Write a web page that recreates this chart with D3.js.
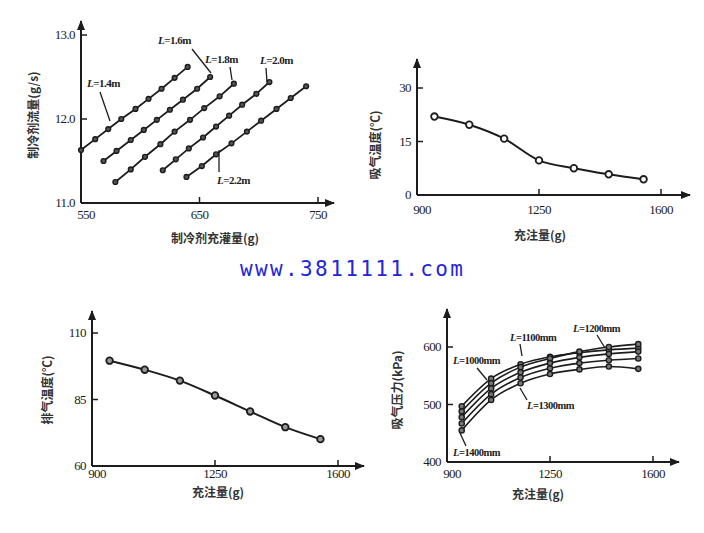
<!DOCTYPE html>
<html><head><meta charset="utf-8">
<script src="https://cdn.jsdelivr.net/npm/d3@7"></script>
<style>body{margin:0;background:#fff}svg{display:block}</style>
</head><body>
<script>
// ---------- DATA ----------
// Panel 1: refrigerant flow vs charge, per pipe length
const p1Lengths = ["1.4","1.6","1.8","2.0","2.2"];
const p1Charge = [
  [550,562,573,584,596,607,618,629,640],
  [569,580,592,603,614,625,636,648,659],
  [579,592,604,617,629,642,654,667,679],
  [619,630,641,653,664,675,686,698,709],
  [639,652,664,677,690,702,715,727,740]
];
const p1Flow = [
  [11.63,11.76,11.88,12.00,12.12,12.24,12.36,12.49,12.62],
  [11.50,11.62,11.75,11.87,11.99,12.11,12.23,12.36,12.50],
  [11.25,11.40,11.55,11.70,11.85,11.99,12.13,12.27,12.42],
  [11.39,11.52,11.65,11.78,11.91,12.04,12.17,12.30,12.44],
  [11.31,11.44,11.58,11.71,11.85,11.98,12.12,12.25,12.39]
];
const p1XTicks = [550,650,750];
const p1YTicks = [11.0,12.0,13.0];

// Panel 2: suction temperature vs charge
const chargeAmounts = [950,1050,1150,1250,1350,1450,1550];
const suctionTemp = [22.0,19.7,15.8,9.7,7.5,5.8,4.4];
const p2YTicks = [0,15,30];
const chargeTicks = [900,1250,1600];

// Panel 3: discharge temperature vs charge
const dischargeTemp = [99.6,96.2,92.1,86.5,80.5,74.6,70.1];
const p3YTicks = [60,85,110];

// Panel 4: suction pressure vs charge, per length
const p4Lengths = ["1000","1100","1200","1300","1400"];
const suctionPressure = [
  [497,545,570,583,590,595,598],
  [488,537,565,580,592,600,605],
  [478,528,556,572,582,588,592],
  [467,518,547,563,572,577,580],
  [455,508,537,553,561,566,562]
];
const p4YTicks = [400,500,600];

// ---------- DRAW ----------
const svg = d3.select("body").append("svg").attr("width",704).attr("height",533);
const ink = "#1c1c1c";
const serif = "'Liberation Serif','DejaVu Serif',serif";
const cjk = "'Noto Sans CJK SC','Noto Sans CJK JP',sans-serif";

svg.append("defs").append("marker").attr("id","arr")
  .attr("viewBox","0 0 10 8").attr("refX",9).attr("refY",4)
  .attr("markerWidth",10).attr("markerHeight",8).attr("markerUnits","userSpaceOnUse")
  .attr("orient","auto").append("path").attr("d","M0,0 L10,4 L0,8 Z").attr("fill",ink);

function axes(g, x, y, xEnd, yTop, xTicks, yTicks, xFmt, yFmt, opt){
  const x0 = x.range()[0], y0 = y.range()[0];
  g.append("line").attr("x1",x0).attr("y1",y0).attr("x2",xEnd).attr("y2",y0)
    .attr("stroke",ink).attr("stroke-width",2).attr("marker-end","url(#arr)");
  g.append("line").attr("x1",x0).attr("y1",y0).attr("x2",x0).attr("y2",yTop)
    .attr("stroke",ink).attr("stroke-width",2).attr("marker-end","url(#arr)");
  xTicks.forEach((t,i)=>{
    if(i>0) g.append("line").attr("x1",x(t)).attr("x2",x(t)).attr("y1",y0).attr("y2",y0-6).attr("stroke",ink).attr("stroke-width",1.5);
    g.append("text").attr("x",x(t)+(i===0?opt.firstDx:0)).attr("y",y0+opt.xLabDy)
      .attr("text-anchor","middle").attr("font-family",serif).attr("font-size",13)
      .attr("fill",ink).attr("letter-spacing",-0.6).text(xFmt(t));
  });
  yTicks.forEach((t,i)=>{
    if(i>0) g.append("line").attr("x1",x0).attr("x2",x0+6).attr("y1",y(t)).attr("y2",y(t)).attr("stroke",ink).attr("stroke-width",1.5);
    g.append("text").attr("x",x0-6).attr("y",y(t)+4)
      .attr("text-anchor","end").attr("font-family",serif).attr("font-size",13)
      .attr("fill",ink).attr("letter-spacing",-0.6).text(yFmt(t));
  });
}
function xTitle(g, cx, cy, txt){
  g.append("text").attr("x",cx).attr("y",cy).attr("text-anchor","middle")
    .attr("font-family",cjk).attr("font-size",12).attr("font-weight",700).attr("fill","#333").text(txt);
}
function yTitle(g, cx, cy, txt){
  g.append("text").attr("transform",`translate(${cx},${cy}) rotate(-90)`).attr("text-anchor","middle")
    .attr("font-family",cjk).attr("font-size",12).attr("font-weight",700).attr("fill","#333").text(txt);
}
function lbl(g, x, y, name, unit, size){
  const t = g.append("text").attr("x",x).attr("y",y).attr("font-family",serif)
    .attr("font-size",size).attr("font-weight",700).attr("fill",ink).attr("letter-spacing",-0.5);
  t.append("tspan").attr("font-style","italic").text("L");
  t.append("tspan").text("=" + name + unit);
}
function leader(g, x1,y1,x2,y2){
  g.append("line").attr("x1",x1).attr("y1",y1).attr("x2",x2).attr("y2",y2).attr("stroke",ink).attr("stroke-width",1.3);
}

// Panel 1
{
  const g = svg.append("g");
  const x = d3.scaleLinear().domain([550,750]).range([81,318]);
  const y = d3.scaleLinear().domain([11,13]).range([203,35]);
  axes(g,x,y,334,21,p1XTicks,p1YTicks,d3.format("d"),d3.format(".1f"),{firstDx:5,xLabDy:16});
  const line = d3.line().x(d=>x(d[0])).y(d=>y(d[1]));
  p1Charge.forEach((cs,i)=>{
    const pts = cs.map((c,j)=>[c,p1Flow[i][j]]);
    g.append("path").attr("d",line(pts)).attr("fill","none").attr("stroke",ink).attr("stroke-width",1.8);
    g.selectAll(null).data(pts).enter().append("circle").attr("cx",d=>x(d[0])).attr("cy",d=>y(d[1]))
      .attr("r",2.4).attr("fill","#555").attr("stroke",ink).attr("stroke-width",1.4);
  });
  lbl(g,87,87,p1Lengths[0],"m",11); leader(g,100,92,110,121);
  lbl(g,158,44,p1Lengths[1],"m",11); leader(g,192,49,211,73);
  lbl(g,205,63,p1Lengths[2],"m",11); leader(g,230,67,232,80);
  lbl(g,260,64,p1Lengths[3],"m",11); leader(g,266,68,267,82);
  lbl(g,217,184,p1Lengths[4],"m",11); leader(g,219,150,219,172);
  xTitle(g,215,243,"制冷剂充灌量(g)");
  yTitle(g,38,115,"制冷剂流量(g/s)");
}

// Panel 2
{
  const g = svg.append("g");
  const x = d3.scaleLinear().domain([900,1600]).range([417,661]);
  const y = d3.scaleLinear().domain([0,30]).range([195,88]);
  axes(g,x,y,690,59,chargeTicks,p2YTicks,d3.format("d"),d3.format("d"),{firstDx:5,xLabDy:19});
  const pts = chargeAmounts.map((c,i)=>[c,suctionTemp[i]]);
  g.append("path").attr("d",d3.line().x(d=>x(d[0])).y(d=>y(d[1])).curve(d3.curveMonotoneX)(pts))
    .attr("fill","none").attr("stroke",ink).attr("stroke-width",2);
  g.selectAll(null).data(pts).enter().append("circle").attr("cx",d=>x(d[0])).attr("cy",d=>y(d[1]))
    .attr("r",3.3).attr("fill","#fff").attr("stroke",ink).attr("stroke-width",1.8);
  xTitle(g,540,240,"充注量(g)");
  yTitle(g,380,145,"吸气温度(℃)");
}

// Panel 3
{
  const g = svg.append("g");
  const x = d3.scaleLinear().domain([900,1600]).range([92,338]);
  const y = d3.scaleLinear().domain([60,110]).range([466,333]);
  axes(g,x,y,364,311,chargeTicks,p3YTicks,d3.format("d"),d3.format("d"),{firstDx:5,xLabDy:12});
  const pts = chargeAmounts.map((c,i)=>[c,dischargeTemp[i]]);
  g.append("path").attr("d",d3.line().x(d=>x(d[0])).y(d=>y(d[1])).curve(d3.curveMonotoneX)(pts))
    .attr("fill","none").attr("stroke",ink).attr("stroke-width",2);
  g.selectAll(null).data(pts).enter().append("circle").attr("cx",d=>x(d[0])).attr("cy",d=>y(d[1]))
    .attr("r",3.3).attr("fill","#999").attr("stroke",ink).attr("stroke-width",1.8);
  xTitle(g,218,497,"充注量(g)");
  yTitle(g,52,390,"排气温度(℃)");
}

// Panel 4
{
  const g = svg.append("g");
  const x = d3.scaleLinear().domain([900,1600]).range([447,653]);
  const y = d3.scaleLinear().domain([400,600]).range([462,347]);
  axes(g,x,y,679,309,chargeTicks,p4YTicks,d3.format("d"),d3.format("d"),{firstDx:5,xLabDy:16});
  const line = d3.line().x(d=>x(d[0])).y(d=>y(d[1])).curve(d3.curveMonotoneX);
  suctionPressure.forEach(vals=>{
    const pts = chargeAmounts.map((c,i)=>[c,vals[i]]);
    g.append("path").attr("d",line(pts)).attr("fill","none").attr("stroke",ink).attr("stroke-width",1.6);
    g.selectAll(null).data(pts).enter().append("circle").attr("cx",d=>x(d[0])).attr("cy",d=>y(d[1]))
      .attr("r",2.6).attr("fill","#777").attr("stroke",ink).attr("stroke-width",1.4);
  });
  lbl(g,573,332,p4Lengths[2],"mm",10.5); leader(g,597,335,605,348);
  lbl(g,510,341,p4Lengths[1],"mm",10.5); leader(g,520,344,522,356);
  lbl(g,453,364,p4Lengths[0],"mm",10.5); leader(g,477,368,487,380);
  lbl(g,527,409,p4Lengths[3],"mm",10.5); leader(g,527,400,520,388);
  lbl(g,453,456,p4Lengths[4],"mm",10.5); leader(g,460,433,466,446);
  xTitle(g,538,499,"充注量(g)");
  yTitle(g,402,390,"吸气压力(kPa)");
}

// Watermark
svg.append("text").attr("x",240).attr("y",276).attr("font-family","'DejaVu Sans Mono',monospace")
  .attr("font-size",21).attr("fill","#2424dc").attr("textLength",223).attr("lengthAdjust","spacing")
  .text("www.3811111.com");
</script>
</body></html>
